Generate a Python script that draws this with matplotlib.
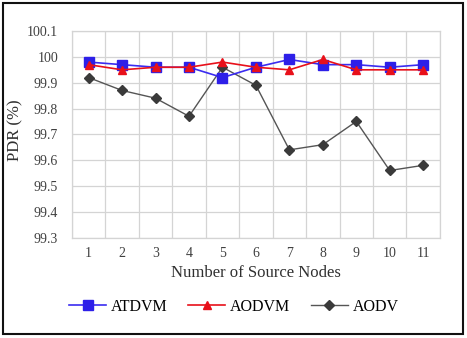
import numpy as np
import matplotlib
matplotlib.use("Agg")
import matplotlib.pyplot as plt
from matplotlib.patches import Rectangle

plt.rcParams['font.family'] = ['Liberation Serif', 'DejaVu Serif']

# data
nodes = [1, 2, 3, 4, 5, 6, 7, 8, 9, 10, 11]
atdvm = [99.98, 99.97, 99.96, 99.96, 99.92, 99.96, 99.99, 99.97, 99.97, 99.96, 99.97]
aodvm = [99.97, 99.95, 99.96, 99.96, 99.98, 99.96, 99.95, 99.99, 99.95, 99.95, 99.95]
aodv = [99.92, 99.87, 99.84, 99.77, 99.96, 99.89, 99.64, 99.66, 99.75, 99.56, 99.58]
yticks = [99.3, 99.4, 99.5, 99.6, 99.7, 99.8, 99.9, 100, 100.1]
ytick_labels = ['99.3', '99.4', '99.5', '99.6', '99.7', '99.8', '99.9', '100', '100.1']

fig = plt.figure(figsize=(4.67, 3.38), dpi=100)
ax = fig.add_axes([0.154, 0.297, 0.788, 0.611])

x = np.arange(len(nodes))
ax.plot(x, atdvm, color='#3b2cf0', marker='s', markersize=6.5, linewidth=1.2,
        markerfacecolor='#2d1fe8', markeredgecolor='#2d1fe8', label='ATDVM', zorder=3)
ax.plot(x, aodvm, color='#e8101a', marker='^', markersize=6, linewidth=1.2,
        markerfacecolor='#e8101a', markeredgecolor='#e8101a', label='AODVM', zorder=4)
ax.plot(x, aodv, color='#555555', marker='D', markersize=5, linewidth=1.0,
        markerfacecolor='#3a3a3a', markeredgecolor='#3a3a3a', label='AODV', zorder=2)

ax.set_xlim(-0.5, len(nodes) - 0.5)
ax.set_ylim(99.3, 100.1)
ax.set_yticks(yticks)
ax.set_yticklabels(ytick_labels)
ax.set_xticks(x)
ax.set_xticklabels([str(n) for n in nodes])
ax.set_xticks(np.arange(-0.5, len(nodes)), minor=True)

ax.grid(False)
ax.yaxis.grid(True, color='#d4d4d4', linewidth=0.9)
ax.xaxis.grid(True, which='minor', color='#d4d4d4', linewidth=0.9)
ax.set_axisbelow(True)
for s in ax.spines.values():
    s.set_color('#d4d4d4')
    s.set_linewidth(0.9)
ax.tick_params(axis='both', which='both', length=0, labelsize=10, colors='#404040')
ax.tick_params(axis='y', pad=10)
ax.tick_params(axis='x', pad=7)

ax.set_xlabel('Number of Source Nodes', fontsize=12, color='#303030', labelpad=3)
ax.set_ylabel('PDR (%)', fontsize=12, color='#303030')
ax.yaxis.set_label_coords(-0.133, 0.52)

ax.legend(loc='center', bbox_to_anchor=(0.44, -0.335), ncol=3, frameon=False,
          fontsize=11.5, handlelength=2.3, columnspacing=1.3, handletextpad=0.3)

# outer frame
fig.patches.append(Rectangle((0.006, 0.012), 0.986, 0.978, transform=fig.transFigure,
                             fill=False, edgecolor='#111111', linewidth=1.5))

fig.savefig('out.png', dpi=100)
